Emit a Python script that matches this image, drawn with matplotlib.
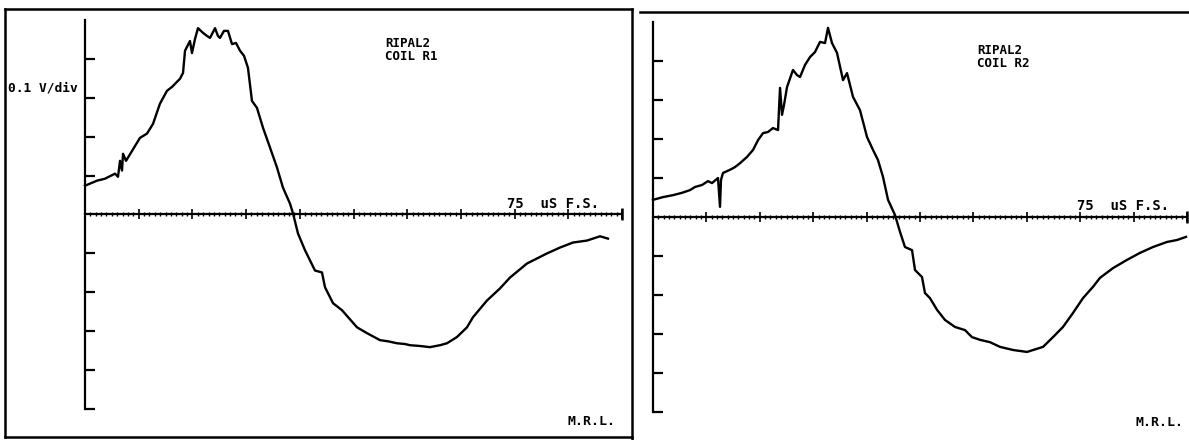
import numpy as np
import matplotlib
matplotlib.use("Agg")
import matplotlib.pyplot as plt
from matplotlib.lines import Line2D

# ---- data (time in microseconds, signal in volts) ----
t_r1 = [0, 1.68, 2.79, 4.19, 4.61, 4.89, 5.17, 5.31, 5.73, 7.68, 8.66, 9.50, 10.47,
        11.45, 12.15, 13.27, 13.69, 13.97, 14.66, 14.94, 15.36, 15.78, 16.48, 17.04,
        17.46, 18.16, 18.57, 18.85, 19.41, 19.97, 20.53, 21.09, 21.65, 22.21, 22.76,
        23.32, 24.02, 24.86, 25.84, 26.81, 27.65, 28.63, 29.05, 29.75, 30.73, 32.12,
        33.10, 33.52, 34.64, 35.89, 37.99, 39.38, 41.20, 42.32, 43.57, 44.69, 45.39,
        46.79, 48.18, 49.58, 50.56, 51.95, 53.35, 54.19, 56.15, 57.96, 59.36, 61.73,
        64.53, 66.34, 68.16, 70.11, 71.93, 73.04]
v_r1 = [0.074, 0.087, 0.092, 0.105, 0.097, 0.138, 0.113, 0.156, 0.138, 0.197, 0.208,
        0.233, 0.285, 0.318, 0.328, 0.349, 0.364, 0.421, 0.446, 0.415, 0.451, 0.479,
        0.467, 0.459, 0.454, 0.479, 0.459, 0.454, 0.472, 0.472, 0.438, 0.441, 0.421,
        0.408, 0.377, 0.292, 0.274, 0.223, 0.172, 0.121, 0.069, 0.028, 0.003, -0.049,
        -0.092, -0.144, -0.149, -0.187, -0.228, -0.246, -0.290, -0.305, -0.323, -0.326,
        -0.331, -0.333, -0.336, -0.338, -0.341, -0.336, -0.331, -0.315, -0.290, -0.264,
        -0.221, -0.190, -0.162, -0.126, -0.100, -0.085, -0.072, -0.067, -0.056, -0.062]

t_r2 = [0, 1.40, 2.81, 4.07, 5.20, 5.90, 6.88, 7.72, 8.29, 9.13, 9.41, 9.55, 9.83,
        10.81, 11.52, 12.22, 13.20, 14.05, 14.75, 15.45, 16.15, 16.85, 17.56, 17.84,
        18.12, 18.40, 18.82, 19.66, 20.22, 20.65, 21.35, 22.05, 22.75, 23.46, 24.16,
        24.58, 25.14, 25.84, 26.69, 27.25, 28.09, 29.07, 30.06, 30.90, 31.60, 32.30,
        33.01, 33.99, 34.69, 35.39, 36.38, 36.80, 37.78, 38.20, 38.90, 39.89, 41.01,
        42.42, 43.82, 44.80, 45.93, 47.33, 48.74, 50.56, 52.53, 54.78, 56.18, 57.58,
        58.99, 60.39, 61.80, 62.78, 64.61, 66.57, 68.40, 70.22, 72.19, 73.60, 74.86]
v_r2 = [0.044, 0.051, 0.056, 0.062, 0.069, 0.077, 0.082, 0.092, 0.087, 0.100, 0.026,
        0.095, 0.113, 0.121, 0.128, 0.138, 0.154, 0.172, 0.197, 0.215, 0.218, 0.228,
        0.223, 0.331, 0.262, 0.287, 0.333, 0.377, 0.364, 0.359, 0.390, 0.410, 0.423,
        0.449, 0.446, 0.485, 0.446, 0.421, 0.351, 0.369, 0.308, 0.274, 0.205, 0.172,
        0.146, 0.103, 0.044, 0.005, -0.038, -0.077, -0.085, -0.136, -0.154, -0.195,
        -0.208, -0.238, -0.264, -0.282, -0.290, -0.308, -0.315, -0.321, -0.333, -0.341,
        -0.346, -0.333, -0.308, -0.282, -0.246, -0.208, -0.179, -0.156, -0.131, -0.110,
        -0.092, -0.077, -0.064, -0.059, -0.051]

panel_titles = ["RIPAL2\nCOIL R1", "RIPAL2\nCOIL R2"]
scale_label = "75  uS F.S."
volt_label = "0.1 V/div"
lab_label = "M.R.L."

W, H = 1189, 440
fig = plt.figure(figsize=(W / 100, H / 100), dpi=100)
fig.patch.set_facecolor("white")

def fx(px):
    return px / W

def fy(py):
    return 1 - py / H

FONT = "DejaVu Sans Mono"

def make_axes(x0, x1, ytop, ybot):
    ax = fig.add_axes([fx(x0), fy(ybot), fx(x1) - fx(x0), fy(ytop) - fy(ybot)])
    ax.set_xlim(0, 75)
    ax.set_ylim(-0.5, 0.5)
    ax.patch.set_alpha(0)
    for s in ["top", "right"]:
        ax.spines[s].set_visible(False)
    ax.spines["left"].set_position(("data", 0))
    ax.spines["bottom"].set_position(("data", 0))
    ax.spines["left"].set_linewidth(1.6)
    ax.spines["bottom"].set_linewidth(1.6)
    ax.set_yticks([-0.5, -0.4, -0.3, -0.2, -0.1, 0.1, 0.2, 0.3, 0.4])
    ax.set_xticks(np.arange(0, 75.01, 7.5))
    ax.set_xticks(np.arange(0, 75.01, 0.75), minor=True)
    ax.tick_params(axis="y", direction="in", length=7, width=1.6, labelleft=False)
    ax.tick_params(axis="x", which="major", direction="inout", length=7, width=1.2,
                   labelbottom=False)
    ax.tick_params(axis="x", which="minor", direction="inout", length=3, width=1.0)
    ax.plot([75], [0], marker="|", ms=8, mew=1.8, color="black", clip_on=False)
    return ax

axL = make_axes(85, 622, 20, 409)
axL.plot(t_r1, v_r1, color="black", lw=1.7, clip_on=False)

axR = make_axes(653, 1187, 22, 412)
axR.plot(t_r2, v_r2, color="black", lw=1.7, clip_on=False)

# frame lines of the plotter sheets
frame = [
    ((5, 632), (9, 9)),
    ((5, 5), (9, 437)),
    ((5, 632), (437, 437)),
    ((632, 632), (9, 440)),
    ((640, 1189), (12, 12)),
]
for xs, ys in frame:
    fig.add_artist(Line2D([fx(xs[0]), fx(xs[1])], [fy(ys[0]), fy(ys[1])],
                          transform=fig.transFigure, color="black", lw=1.8))

txt = dict(family=FONT, fontweight="bold", color="black", va="center", ha="left")
fig.text(fx(8), fy(88), volt_label, fontsize=9.3, **txt)
fig.text(fx(385), fy(50), panel_titles[0], fontsize=9, linespacing=1.0, **txt)
fig.text(fx(977), fy(57), panel_titles[1], fontsize=9, linespacing=1.0, **txt)
fig.text(fx(507), fy(204), scale_label, fontsize=10, **txt)
fig.text(fx(1077), fy(206), scale_label, fontsize=10, **txt)
fig.text(fx(567), fy(421), lab_label, fontsize=9.5, **txt)
fig.text(fx(1136), fy(422), lab_label, fontsize=9.5, **txt)

fig.savefig("out.png", dpi=100, facecolor="white")
